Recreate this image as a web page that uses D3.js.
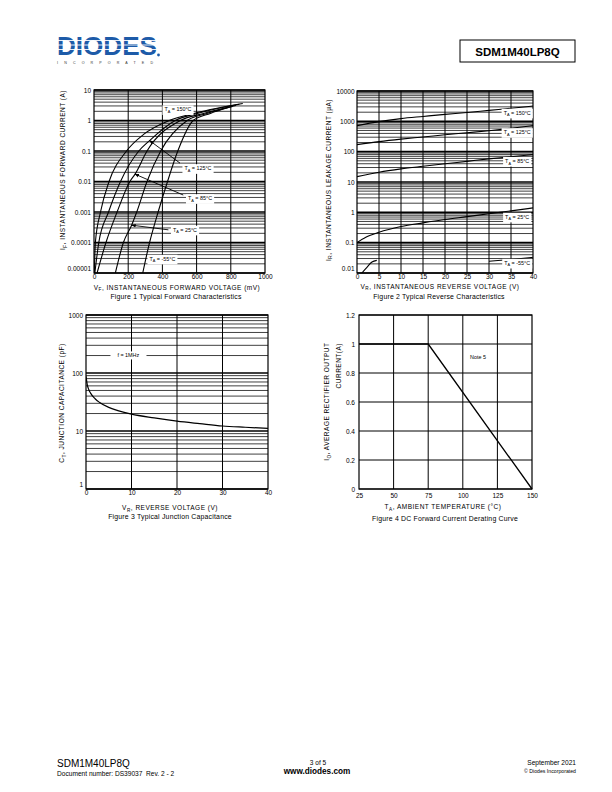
<!DOCTYPE html>
<html>
<head>
<meta charset="utf-8">
<script src="https://cdn.jsdelivr.net/npm/d3@7"></script>
<style>
body { margin: 0; background: #fff; }
svg { display: block; font-family: "Liberation Sans", Arial, sans-serif; }
</style>
</head>
<body>
<div id="page"></div>
<script>
// Figure 1: forward characteristics, [mV, A]
const vf150 = [[2,1e-5],[8,1e-4],[38,1e-3],[88,0.01],[190,0.1],[290,0.35],[440,1],[600,1.8],[870,3.6]]
const vf125 = [[5,1e-5],[28,1e-4],[85,1e-3],[155,0.01],[262,0.1],[325,0.22],[475,1],[620,1.8],[850,3.4]]
const vf85 = [[18,1e-5],[70,1e-4],[135,1e-3],[210,0.01],[240,0.0174],[310,0.1],[505,1],[640,1.7],[830,3.1]]
const vf25 = [[125,1e-5],[172,1e-4],[220,3.7e-4],[250,1e-3],[310,0.01],[390,0.1],[545,1],[660,1.7],[810,2.9]]
const vfm55 = [[285,1e-5],[325,1e-4],[375,1e-3],[430,0.01],[490,0.1],[580,1],[680,1.7],[790,2.7]]
const fig1Ticks = [1e-5,1e-4,1e-3,0.01,0.1,1,10]
const fig1TickLabels = ["0.00001","0.0001","0.001","0.01","0.1","1","10"]

// Figure 2: reverse characteristics, [V, uA]
const ir150 = [[0,720],[5,980],[10,1230],[15,1450],[20,1700],[25,1950],[30,2300],[35,2700],[40,3200]]
const ir125 = [[0,170],[5,215],[10,260],[15,305],[20,360],[25,420],[30,490],[35,590],[40,720]]
const ir85 = [[0,15],[5,21],[10,27],[15,33],[20,40],[25,48],[30,58],[35,68],[40,80]]
const ir25 = [[0,0.1],[2,0.15],[5,0.22],[10,0.34],[15,0.45],[20,0.58],[25,0.72],[30,0.9],[35,1.12],[40,1.4]]
const irm55a = [[1.1,0.01],[2.2,0.015],[3.4,0.023],[4.5,0.026]]
const irm55b = [[30,0.0245],[35,0.028],[40,0.033]]
const fig2Ticks = [0.01,0.1,1,10,100,1000,10000]
const fig2TickLabels = ["0.01","0.1","1","10","100","1000","10000"]

// Figure 3: junction capacitance, [V, pF]
const capT = [[0,88],[0.3,62],[0.6,52],[1,45],[2,36],[3,31],[5,25.5],[7,22.5],[10,19.5],[15,16.8],[20,14.8],[25,13.4],[30,12.2],[35,11.6],[40,11.1]]
const fig3Ticks = [1,10,100,1000]

// Figure 4: derating, [degC, A]
const derTemp = [25,75,150]
const derCurrent = [1,1,0]

const svg = d3.select("#page").append("svg").attr("width",612).attr("height",792)
svg.append("rect").attr("width",612).attr("height",792).attr("fill","#fff")

const defs = svg.append("defs")
defs.append("marker").attr("id","arr").attr("viewBox","0 0 10 10").attr("refX",9).attr("refY",5)
  .attr("markerWidth",5).attr("markerHeight",5).attr("orient","auto")
  .append("path").attr("d","M0,1 L10,5 L0,9 z").attr("fill","#000")

// ---------- header ----------
svg.append("text").attr("x",57).attr("y",55).attr("font-weight","bold").attr("font-size",26)
  .attr("textLength",100).attr("lengthAdjust","spacingAndGlyphs").attr("fill","#1d5ba8").text("DIODES")
;[40.5,45,49.5].forEach(s => {
  svg.append("line").attr("x1",55).attr("x2",160).attr("y1",s).attr("y2",s).attr("stroke","#fff").attr("stroke-width",0.9)
})
svg.append("circle").attr("cx",158.5).attr("cy",55).attr("r",1.4).attr("fill","#1d5ba8")
svg.append("text").attr("x",57).attr("y",64.2).attr("font-size",3.6).attr("textLength",96)
  .attr("fill","#333").text("I N C O R P O R A T E D")

svg.append("rect").attr("x",460).attr("y",40).attr("width",115).attr("height",22)
  .attr("fill","none").attr("stroke","#000").attr("stroke-width",1)
svg.append("text").attr("x",517.5).attr("y",55.5).attr("text-anchor","middle").attr("font-weight","bold")
  .attr("font-size",11.5).text("SDM1M40LP8Q")

// ---------- footer ----------
svg.append("text").attr("x",57).attr("y",767).attr("font-size",10).text("SDM1M40LP8Q")
svg.append("text").attr("x",57).attr("y",776).attr("font-size",6.6).text("Document number: DS39037\u00a0 Rev. 2 - 2")
svg.append("text").attr("x",318).attr("y",764.5).attr("text-anchor","middle").attr("font-size",6.5).text("3 of 5")
svg.append("text").attr("x",317).attr("y",773.5).attr("text-anchor","middle").attr("font-weight","bold").attr("font-size",8.2).text("www.diodes.com")
svg.append("text").attr("x",576).attr("y",764.5).attr("text-anchor","end").attr("font-size",6.6).text("September 2021")
svg.append("text").attr("x",576).attr("y",772.5).attr("text-anchor","end").attr("font-size",5.2).text("\u00a9 Diodes Incorporated")

// ---------- helpers ----------
function logGrid(g, x, y, lo, hi, xTicks) {
  const vals = []
  for (let e = lo; e < hi; e++) for (let m = 1; m < 10; m++) vals.push(m * Math.pow(10, e))
  vals.push(Math.pow(10, hi))
  g.selectAll(null).data(vals).enter().append("line")
    .attr("x1", x.range()[0]).attr("x2", x.range()[1])
    .attr("y1", d => y(d)).attr("y2", d => y(d))
    .attr("stroke","#000").attr("stroke-width", (d,i) => i % 9 === 0 ? 1.6 : 0.75)
  vGrid(g, x, y, xTicks)
}

function vGrid(g, x, y, xTicks) {
  g.selectAll(null).data(xTicks).enter().append("line")
    .attr("x1", d => x(d)).attr("x2", d => x(d))
    .attr("y1", y.range()[0]).attr("y2", y.range()[1])
    .attr("stroke","#000").attr("stroke-width",1)
}

function frame(g, x, y) {
  g.append("rect").attr("x", x.range()[0]).attr("y", y.range()[1])
    .attr("width", x.range()[1] - x.range()[0]).attr("height", y.range()[0] - y.range()[1])
    .attr("fill","none").attr("stroke","#000").attr("stroke-width",1.2)
}

function axes(g, x, y, xTicks, yTicks, yLabels, padX, padY, shiftLast) {
  const ax = g.append("g").attr("transform","translate(0," + y.range()[0] + ")")
    .call(d3.axisBottom(x).tickValues(xTicks).tickSize(0).tickPadding(padX).tickFormat(d => String(d)))
  const ay = g.append("g").attr("transform","translate(" + x.range()[0] + ",0)")
    .call(d3.axisLeft(y).tickValues(yTicks).tickSize(0).tickPadding(padY)
      .tickFormat((d,i) => yLabels ? yLabels[i] : String(d)))
  ;[ax, ay].forEach(a => {
    a.attr("font-size",6.5).attr("font-family",null)
    a.select(".domain").remove()
  })
  if (shiftLast) ay.selectAll(".tick text").filter((d,i) => i === 0).attr("dy","-0.4em")
}

function richText(g, x, y, parts, fs, anchor, rotate, ls) {
  const t = g.append("text").attr("font-size", fs).attr("text-anchor", anchor || "middle")
    .attr("letter-spacing", ls || 0)
    .attr("transform", "translate(" + x + "," + y + ")" + (rotate ? " rotate(-90)" : ""))
  parts.forEach(p => {
    if (p[1]) t.append("tspan").attr("font-size", fs * 0.72).attr("dy", fs * 0.3).text(p[0])
    else t.append("tspan").attr("dy", p[2] ? -fs * 0.3 : 0).text(p[0])
  })
  return t
}

function boxLabel(g, cx, cy, parts, fs, padX) {
  const t = richText(g, cx, cy + fs * 0.35, parts, fs, "middle", false)
  const b = t.node().getBBox()
  const tr = [cx, cy + fs * 0.35]
  g.insert("rect", () => t.node())
    .attr("x", tr[0] + b.x - padX).attr("y", tr[1] + b.y - 1)
    .attr("width", b.width + 2 * padX).attr("height", b.height + 2).attr("fill","#fff")
  return t
}

function caption(g, x, y, txt) {
  g.append("text").attr("x", x).attr("y", y).attr("text-anchor","middle").attr("font-size",6.9)
    .attr("letter-spacing",0.2).text(txt)
}

const tParts = temp => [["T"],["A",true],[" = " + temp + "\u00b0C", false, true]]

function drawCurve(g, x, y, data, clipId, w) {
  g.append("path").datum(data).attr("clip-path","url(#" + clipId + ")")
    .attr("fill","none").attr("stroke","#000").attr("stroke-width", w || 1.1)
    .attr("d", d3.line().x(d => x(d[0])).y(d => y(d[1])).curve(d3.curveMonotoneX))
}

function clip(id, x, y) {
  defs.append("clipPath").attr("id", id).append("rect")
    .attr("x", x.range()[0]).attr("y", y.range()[1])
    .attr("width", x.range()[1] - x.range()[0]).attr("height", y.range()[0] - y.range()[1])
}

// ---------- Figure 1 ----------
{
  const g = svg.append("g")
  const x = d3.scaleLinear().domain([0,1000]).range([94,265])
  const y = d3.scaleLog().domain([1e-5,10]).range([273,90])
  clip("c1", x, y)
  logGrid(g, x, y, -5, 1, [200,400,600,800])
  ;[vf150, vf125, vf85, vf25, vfm55].forEach(c => drawCurve(g, x, y, c, "c1"))
  frame(g, x, y)
  axes(g, x, y, [0,200,400,600,800,1000], fig1Ticks, fig1TickLabels, 1, 3, true)

  const arrows = [[[503,0.04],[325,0.22]], [[522,0.0036],[240,0.0174]], [[435,2.6e-4],[220,3.7e-4]]]
  arrows.forEach(a => {
    g.append("line").attr("x1", x(a[0][0])).attr("y1", y(a[0][1])).attr("x2", x(a[1][0])).attr("y2", y(a[1][1]))
      .attr("stroke","#000").attr("stroke-width",0.9).attr("marker-end","url(#arr)")
  })
  boxLabel(g, x(491), y(2.3), tParts("150"), 5.4, 2)
  boxLabel(g, x(608), y(0.027), tParts("125"), 5.4, 2)
  boxLabel(g, x(620), y(0.0028), tParts("85"), 5.4, 2)
  boxLabel(g, x(532), y(2.6e-4), tParts("25"), 5.4, 2)
  boxLabel(g, x(400), y(2.9e-5), tParts("-55"), 5.4, 2)

  richText(g, 65, 170, [["I"],["F",true],[", INSTANTANEOUS FORWARD CURRENT (A)",false,true]], 6.5, "middle", true, 0.5)
  richText(g, 177, 289.5, [["V"],["F",true],[", INSTANTANEOUS FORWARD VOLTAGE (mV)",false,true]], 6.5, "middle", false, 0.5)
  caption(g, 176, 298.5, "Figure 1 Typical Forward Characteristics")
}

// ---------- Figure 2 ----------
{
  const g = svg.append("g")
  const x = d3.scaleLinear().domain([0,40]).range([357,533])
  const y = d3.scaleLog().domain([0.01,10000]).range([273,91])
  clip("c2", x, y)
  logGrid(g, x, y, -2, 4, d3.range(5,40,5))
  ;[ir150, ir125, ir85, ir25, irm55a, irm55b].forEach(c => drawCurve(g, x, y, c, "c2"))
  frame(g, x, y)
  axes(g, x, y, d3.range(0,41,5), fig2Ticks, fig2TickLabels, 1, 2.5, true)

  boxLabel(g, x(36.4), y(1900), tParts("150"), 5.4, 2)
  boxLabel(g, x(36.4), y(435), tParts("125"), 5.4, 2)
  boxLabel(g, x(36.4), y(49), tParts("85"), 5.4, 2)
  boxLabel(g, x(36.4), y(0.71), tParts("25"), 5.4, 2)
  boxLabel(g, x(36.4), y(0.0214), tParts("-55"), 5.4, 2)

  richText(g, 330.5, 180, [["I"],["R",true],[", INSTANTANEOUS LEAKAGE CURRENT (\u00b5A)",false,true]], 6.5, "middle", true, 0.5)
  richText(g, 440, 288.5, [["V"],["R",true],[", INSTANTANEOUS REVERSE VOLTAGE (V)",false,true]], 6.5, "middle", false, 0.5)
  caption(g, 439, 298.5, "Figure 2 Typical Reverse Characteristics")
}

// ---------- Figure 3 ----------
{
  const g = svg.append("g")
  const x = d3.scaleLinear().domain([0,40]).range([86,268])
  const y = d3.scaleLog().domain([1,1000]).range([489,315])
  clip("c3", x, y)
  logGrid(g, x, y, 0, 3, [10,20,30])
  drawCurve(g, x, y, capT, "c3", 1.2)
  frame(g, x, y)
  axes(g, x, y, [0,10,20,30,40], fig3Ticks, null, 1, 3, true)

  boxLabel(g, x(9.3), y(200), [["f = 1MHz"]], 5.4, 7)

  richText(g, 64, 403, [["C"],["T",true],[", JUNCTION CAPACITANCE (pF)",false,true]], 6.5, "middle", true, 0.5)
  richText(g, 170, 510, [["V"],["R",true],[", REVERSE VOLTAGE (V)",false,true]], 6.5, "middle", false, 0.5)
  caption(g, 170, 518.5, "Figure 3 Typical Junction Capacitance")
}

// ---------- Figure 4 ----------
{
  const g = svg.append("g")
  const x = d3.scaleLinear().domain([25,150]).range([359,532])
  const y = d3.scaleLinear().domain([0,1.2]).range([489,315])
  const yTicks = [0,0.2,0.4,0.6,0.8,1,1.2]
  g.selectAll(null).data(yTicks).enter().append("line")
    .attr("x1", x.range()[0]).attr("x2", x.range()[1]).attr("y1", d => y(d)).attr("y2", d => y(d))
    .attr("stroke","#000").attr("stroke-width",1)
  vGrid(g, x, y, [50,75,100,125])
  g.append("path").datum(derTemp.map((t,i) => [t, derCurrent[i]]))
    .attr("fill","none").attr("stroke","#000").attr("stroke-width",1.3)
    .attr("d", d3.line().x(d => x(d[0])).y(d => y(d[1])))
  frame(g, x, y)
  axes(g, x, y, [25,50,75,100,125,150], yTicks, null, 4.5, 4, false)

  g.append("text").attr("x", x(111)).attr("y", y(0.91)).attr("dy","0.35em").attr("text-anchor","middle")
    .attr("font-size",5.4).text("Note 5")

  richText(g, 329, 401.7, [["I"],["O",true],[", AVERAGE RECTIFIER OUTPUT",false,true]], 6.5, "middle", true, 0.5)
  g.append("text").attr("transform","translate(340.5,343) rotate(-90)").attr("text-anchor","end")
    .attr("font-size",6.5).attr("letter-spacing",0.5).text("CURRENT(A)")
  richText(g, 443, 509, [["T"],["A",true],[", AMBIENT TEMPERATURE (\u00b0C)",false,true]], 6.5, "middle", false, 0.5)
  caption(g, 445, 520.5, "Figure 4  DC Forward Current Derating Curve")
}
</script>
</body>
</html>
